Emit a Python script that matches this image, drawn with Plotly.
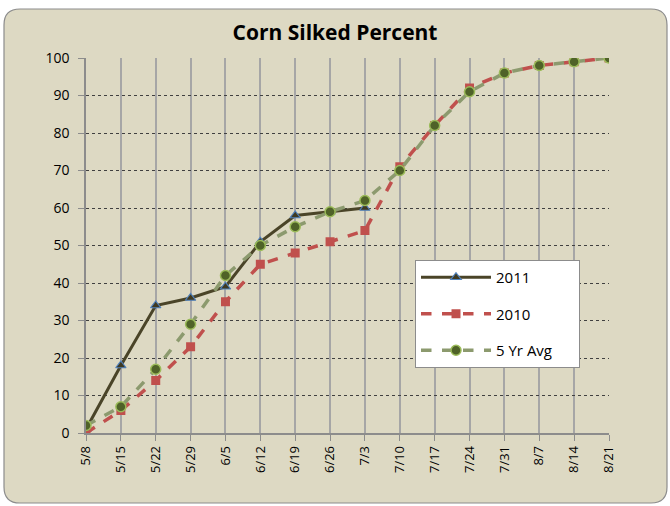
import plotly.graph_objects as go

weeks = ["5/8", "5/15", "5/22", "5/29", "6/5", "6/12", "6/19", "6/26", "7/3",
         "7/10", "7/17", "7/24", "7/31", "8/7", "8/14", "8/21"]
y2011 = [1, 18, 34, 36, 39, 51, 58, 59, 60]
y2010 = [0, 6, 14, 23, 35, 45, 48, 51, 54, 71, 82, 92, 96, 98, 99, 100]
y5yr = [2, 7, 17, 29, 42, 50, 55, 59, 62, 70, 82, 91, 96, 98, 99, 100]
yticks = list(range(0, 101, 10))

W, H = 670, 506
L, R, T, B = 86, 609, 58, 433

def px(x):
    return (x - L) / (R - L)

def py(y):
    return (B - y) / (B - T)

idx = list(range(len(weeks)))
PADR = "\u00a0" * 11

fig = go.Figure()
fig.add_trace(go.Scatter(
    x=idx[:len(y2011)], y=y2011, name="2011" + PADR, mode="lines+markers",
    line=dict(color="#4A4428", width=3),
    marker=dict(symbol="triangle-up", size=9, color="#3F3A22",
                line=dict(color="#4F81BD", width=1.2)),
    legendgroup="a"))
fig.add_trace(go.Scatter(
    x=idx, y=y2010, name="2010", mode="lines+markers",
    line=dict(color="#C0504D", width=3.5, dash="dash"),
    marker=dict(symbol="square", size=9, color="#C0504D"),
    legendgroup="b"))
fig.add_trace(go.Scatter(
    x=idx, y=y5yr, name="5 Yr Avg", mode="lines+markers",
    line=dict(color="#8C9A6E", width=3.5, dash="dash"),
    marker=dict(symbol="circle", size=10, color="#4F6228",
                line=dict(color="#9BBB59", width=1.5)),
    legendgroup="c"))

# rounded background panel
x0, y0, x1, y1, r = 4, 9, 667, 503, 16
path = (f"M {px(x0 + r)},{py(y0)} L {px(x1 - r)},{py(y0)} "
        f"Q {px(x1)},{py(y0)} {px(x1)},{py(y0 + r)} "
        f"L {px(x1)},{py(y1 - r)} Q {px(x1)},{py(y1)} {px(x1 - r)},{py(y1)} "
        f"L {px(x0 + r)},{py(y1)} Q {px(x0)},{py(y1)} {px(x0)},{py(y1 - r)} "
        f"L {px(x0)},{py(y0 + r)} Q {px(x0)},{py(y0)} {px(x0 + r)},{py(y0)} Z")
fig.add_shape(type="path", path=path, xref="paper", yref="paper",
              fillcolor="#DDD9C3", line=dict(color="#8C8C8C", width=1.2),
              layer="below")

fig.update_layout(
    width=W, height=H,
    margin=dict(l=L, r=W - R, t=T, b=H - B, pad=0),
    paper_bgcolor="white",
    plot_bgcolor="white",
    title=dict(text="<b>Corn Silked Percent</b>", x=0.5, xanchor="center",
               y=1 - 33 / H, yanchor="middle",
               font=dict(family="Open Sans", size=21, color="black")),
    font=dict(family="Open Sans", color="black"),
    showlegend=True,
    legend=dict(x=px(415), y=py(260), xanchor="left", yanchor="top",
                bgcolor="white", bordercolor="#8C8C8C", borderwidth=1,
                font=dict(size=15, family="Open Sans"),
                itemwidth=70,
                tracegroupgap=14, traceorder="grouped"),
    xaxis=dict(range=[0, 15], tickmode="array", tickvals=idx, ticktext=weeks,
               tickangle=-90, showgrid=True, gridcolor="#A6A6A6", gridwidth=1.5,
               ticks="outside", ticklen=6, tickcolor="#8C8C8C",
               showline=True, linecolor="#8C8C8C", linewidth=1.5,
               zeroline=False, tickfont=dict(size=13), fixedrange=True),
    yaxis=dict(range=[0, 100], tickmode="array", tickvals=yticks,
               showgrid=True, gridcolor="#404040", gridwidth=1, griddash="dot",
               ticks="outside", ticklen=6, tickcolor="#8C8C8C",
               showline=True, linecolor="#8C8C8C", linewidth=1.5,
               zeroline=False, tickfont=dict(size=14), fixedrange=True,
               ticklabelstandoff=6),
)

fig.write_html("out.html", config={"displayModeBar": False},
               post_script="document.body.style.margin='0';document.body.style.padding='0';")
